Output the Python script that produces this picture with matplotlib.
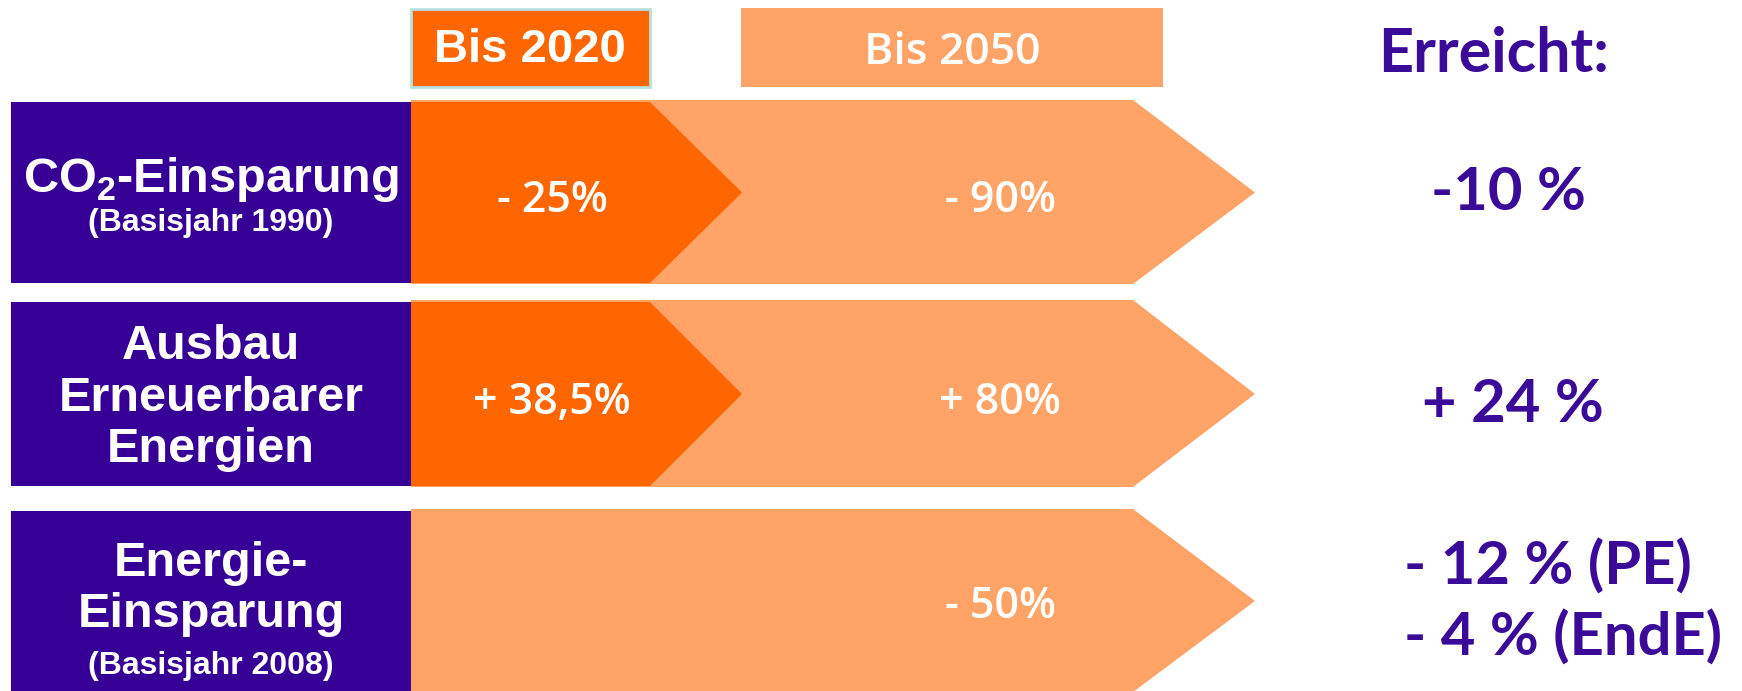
import matplotlib.pyplot as plt
from matplotlib.patches import Polygon, Rectangle

# Daten / Texte
kategorien = ["CO$_\\mathregular{2}$-Einsparung", "Ausbau\nErneuerbarer\nEnergien", "Energie-\nEinsparung"]
basisjahr = ["(Basisjahr 1990)", None, "(Basisjahr 2008)"]
ziel_2020 = ["- 25%", "+ 38,5%", None]
ziel_2050 = ["- 90%", "+ 80%", "- 50%"]
erreicht = ["-10 %", "+ 24 %", "- 12 % (PE)\n- 4 % (EndE)"]
spalten = ["Bis 2020", "Bis 2050", "Erreicht:"]

LILA = "#360096"
ORANGE = "#ff6600"
HELL = "#ffa366"
TEXT_LILA = "#3a0b99"

plt.rcParams["mathtext.fontset"] = "custom"
plt.rcParams["mathtext.rm"] = "Liberation Sans:bold"

fig = plt.figure(figsize=(17.42, 6.91), dpi=100)
ax = fig.add_axes([0, 0, 1, 1])
ax.set_xlim(0, 1742)
ax.set_ylim(691, 0)
ax.axis("off")

# Zeilen-Layout (Pixel)
oben = [102, 302, 511]
unten = [283, 486, 691]
x_links, x_kasten = 11, 411
x_hell, x_hell_spitze = 1133, 1255
x_dunkel, x_dunkel_spitze = 650, 742
text_dy = [8, 8, 6]

for i in range(3):
    y0, y1 = oben[i], unten[i]
    ym = (y0 + y1) / 2
    ax.add_patch(Rectangle((x_links, y0), x_kasten - x_links, y1 - y0, color=LILA, lw=0))
    ax.add_patch(Polygon([(x_kasten, y0 - 2), (x_hell, y0 - 2), (x_hell_spitze, ym),
                          (x_hell, y1 + 1), (x_kasten, y1 + 1)], closed=True, color=HELL, lw=0))
    if ziel_2020[i]:
        ax.add_patch(Polygon([(x_kasten, y0), (x_dunkel, y0), (x_dunkel_spitze, ym),
                              (x_dunkel, y1), (x_kasten, y1)], closed=True, color=ORANGE, lw=0))
        ax.text(552, ym + text_dy[i], ziel_2020[i], color="white", fontsize=31,
                family="Open Sans", weight="semibold", ha="center", va="center")
    ax.text(1000, ym + text_dy[i], ziel_2050[i], color="white", fontsize=31,
            family="Open Sans", weight="semibold", ha="center", va="center")

# Beschriftung links
ax.text(211, 179, kategorien[0], color="white", fontsize=35, family="Liberation Sans",
        weight="bold", ha="center", va="center")
ax.text(211, 223, basisjahr[0], color="white", fontsize=23, family="Liberation Sans",
        weight="bold", ha="center", va="center")
ax.text(211, 398, kategorien[1], color="white", fontsize=35, family="Liberation Sans",
        weight="bold", ha="center", va="center", linespacing=1.18)
ax.text(211, 589, kategorien[2], color="white", fontsize=35, family="Liberation Sans",
        weight="bold", ha="center", va="center", linespacing=1.18)
ax.text(211, 666, basisjahr[2], color="white", fontsize=23, family="Liberation Sans",
        weight="bold", ha="center", va="center")

# Kopfzeile
ax.add_patch(Rectangle((411, 9), 239, 78, facecolor=ORANGE, edgecolor="#b9e0e0", lw=2))
ax.text(530, 50, spalten[0], color="white", fontsize=34, family="Liberation Sans",
        weight="bold", ha="center", va="center")
ax.add_patch(Rectangle((741, 8), 422, 79, color=HELL, lw=0))
ax.text(952, 52, spalten[1], color="white", fontsize=32, family="Open Sans",
        weight="semibold", ha="center", va="center")
ax.text(1494, 54, spalten[2], color=TEXT_LILA, fontsize=44, family="Lato",
        weight="bold", ha="center", va="center")

# Erreicht-Spalte
ax.text(1508, 193, erreicht[0], color=TEXT_LILA, fontsize=43, family="Lato",
        weight="bold", ha="center", va="center")
ax.text(1513, 405, erreicht[1], color=TEXT_LILA, fontsize=43, family="Lato",
        weight="bold", ha="center", va="center")
ax.text(1563, 602, erreicht[2], color=TEXT_LILA, fontsize=43, family="Lato",
        weight="bold", ha="center", va="center", multialignment="left", linespacing=1.33)

fig.savefig("out.png", dpi=100)
